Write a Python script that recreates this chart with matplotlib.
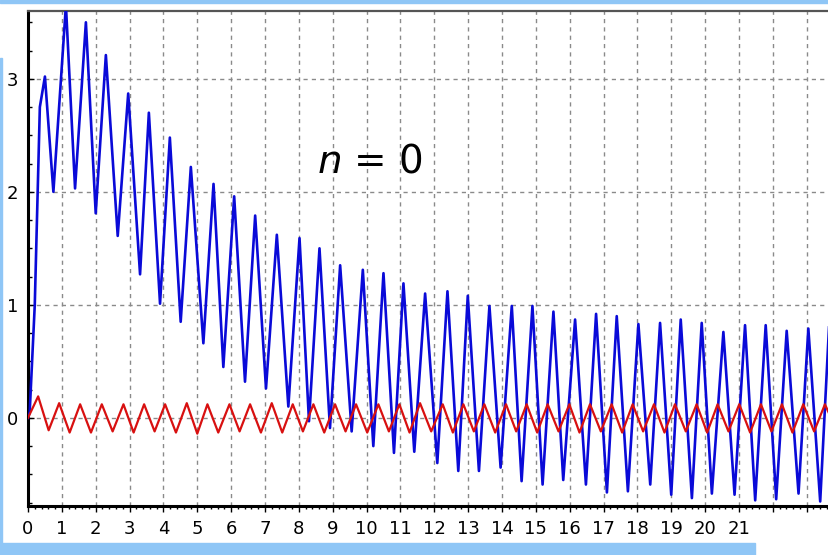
import matplotlib.pyplot as plt
import numpy as np
from matplotlib.patches import Rectangle
from matplotlib.ticker import MultipleLocator

# blue trace: turning points (x, y)
blue_x = [0.00, 0.05, 0.20, 0.35, 0.50, 0.75, 1.12, 1.39, 1.71, 2.00,
          2.30, 2.65, 2.96, 3.31, 3.57, 3.90, 4.19, 4.51, 4.81, 5.18,
          5.48, 5.77, 6.09, 6.41, 6.71, 7.03, 7.35, 7.69, 8.02, 8.30,
          8.61, 8.92, 9.22, 9.56, 9.89, 10.20, 10.50, 10.81, 11.09, 11.41,
          11.73, 12.09, 12.39, 12.71, 12.99, 13.32, 13.63, 13.96, 14.29, 14.58,
          14.90, 15.20, 15.52, 15.81, 16.16, 16.48, 16.78, 17.10, 17.39, 17.72,
          18.03, 18.38, 18.67, 19.00, 19.28, 19.61, 19.90, 20.20, 20.54, 20.87,
          21.18, 21.48, 21.79, 22.10, 22.41, 22.76, 23.05, 23.40, 23.66]
blue_y = [0.00, 0.05, 1.00, 2.75, 3.02, 2.00, 3.65, 2.03, 3.50, 1.81,
          3.21, 1.61, 2.87, 1.27, 2.70, 1.01, 2.48, 0.85, 2.22, 0.66,
          2.07, 0.45, 1.96, 0.32, 1.79, 0.26, 1.62, 0.10, 1.59, -0.03,
          1.50, -0.09, 1.35, -0.12, 1.31, -0.25, 1.28, -0.31, 1.19, -0.30,
          1.10, -0.40, 1.12, -0.47, 1.08, -0.47, 0.99, -0.44, 0.99, -0.56,
          0.99, -0.59, 0.94, -0.55, 0.87, -0.59, 0.92, -0.66, 0.90, -0.65,
          0.83, -0.59, 0.84, -0.68, 0.87, -0.71, 0.84, -0.67, 0.76, -0.68,
          0.82, -0.73, 0.82, -0.72, 0.77, -0.67, 0.79, -0.74, 0.80]

# red trace: peaks and troughs
red_peak_x = [0.30, 0.92, 1.54, 2.18, 2.82, 3.43, 4.05, 4.69, 5.30, 5.95,
              6.56, 7.20, 7.82, 8.43, 9.07, 9.69, 10.35, 10.97, 11.58, 12.25,
              12.86, 13.48, 14.12, 14.73, 15.35, 15.99, 16.60, 17.24, 17.86, 18.49,
              19.11, 19.75, 20.37, 21.01, 21.65, 22.27, 22.90, 23.54]
red_peak_y = [0.19, 0.13, 0.12, 0.12, 0.12, 0.12, 0.12, 0.13, 0.12, 0.12,
              0.12, 0.13, 0.12, 0.12, 0.12, 0.12, 0.12, 0.12, 0.13, 0.12,
              0.12, 0.12, 0.12, 0.12, 0.12, 0.12, 0.12, 0.12, 0.12, 0.12,
              0.12, 0.12, 0.12, 0.12, 0.12, 0.12, 0.12, 0.12]
red_trough_x = [0.61, 1.23, 1.86, 2.50, 3.12, 3.74, 4.37, 5.00, 5.62, 6.25,
                6.88, 7.51, 8.12, 8.75, 9.38, 10.02, 10.66, 11.27, 11.91, 12.55,
                13.17, 13.80, 14.42, 15.04, 15.67, 16.29, 16.92, 17.55, 18.17, 18.80,
                19.43, 20.06, 20.69, 21.33, 21.96, 22.58, 23.22]
red_trough_y = [-0.11, -0.13, -0.13, -0.12, -0.13, -0.12, -0.13, -0.14, -0.13, -0.12,
                -0.13, -0.13, -0.12, -0.13, -0.12, -0.13, -0.12, -0.13, -0.12, -0.13,
                -0.12, -0.13, -0.12, -0.13, -0.12, -0.13, -0.12, -0.13, -0.12, -0.13,
                -0.12, -0.13, -0.12, -0.13, -0.12, -0.13, -0.12]
red_start = (0.0, 0.0)
red_end = (23.66, 0.04)

x_ticks = list(range(24))
x_tick_labels = [str(i) for i in range(22)] + ['', '']
y_ticks = [0, 1, 2, 3]
y_tick_labels = ['0', '1', '2', '3']


def main():
    plt.rcParams['font.family'] = 'DejaVu Sans'
    plt.rcParams['mathtext.fontset'] = 'dejavusans'

    fig = plt.figure(figsize=(8.29, 5.55), dpi=100)
    ax = fig.add_axes([28 / 829, 49 / 555, 1 - 28 / 829, 495 / 555])

    # interleave red peaks and troughs
    rx = [red_start[0]]
    ry = [red_start[1]]
    for i in range(len(red_peak_x)):
        rx.append(red_peak_x[i])
        ry.append(red_peak_y[i])
        if i < len(red_trough_x):
            rx.append(red_trough_x[i])
            ry.append(red_trough_y[i])
    rx.append(red_end[0])
    ry.append(red_end[1])

    ax.plot(blue_x, blue_y, color='#0a0ad8', linewidth=1.9, zorder=3)
    ax.plot(rx, ry, color='#d81010', linewidth=1.6, zorder=4)

    ax.set_xlim(0, 23.66)
    ax.set_ylim(-0.78, 3.60)

    ax.set_xticks(x_ticks)
    ax.set_xticklabels(x_tick_labels, fontsize=13)
    ax.set_yticks(y_ticks)
    ax.set_yticklabels(y_tick_labels, fontsize=13)
    ax.xaxis.set_minor_locator(MultipleLocator(0.2))
    ax.yaxis.set_minor_locator(MultipleLocator(0.25))
    ax.tick_params(axis='x', which='major', direction='out', length=4, width=1, pad=6)
    ax.tick_params(axis='x', which='minor', direction='out', length=2, width=1)
    ax.tick_params(axis='y', which='major', direction='in', length=4, width=1, pad=7)
    ax.tick_params(axis='y', which='minor', direction='in', length=3, width=1)

    ax.grid(True, which='major', linestyle=(0, (3, 3)), color='#8a8a8a', linewidth=1.0, zorder=1)
    ax.set_axisbelow(True)

    for s in ['left', 'bottom']:
        ax.spines[s].set_color('black')
        ax.spines[s].set_linewidth(2.2)
    ax.spines['top'].set_color('#555555')
    ax.spines['top'].set_linewidth(1.6)
    ax.spines['right'].set_visible(False)

    ax.text(10.1, 2.27, r'$n$ = 0', fontsize=28, ha='center', va='center', zorder=5)

    # light blue frame strips of the slide
    strip = '#8fc6f6'
    fig.patches.append(Rectangle((0, 1 - 3 / 555), 1, 3 / 555, transform=fig.transFigure,
                                 color=strip, zorder=0))
    fig.patches.append(Rectangle((0, 0), 2 / 829, (555 - 58) / 555, transform=fig.transFigure,
                                 color=strip, zorder=0))
    fig.patches.append(Rectangle((0, 0), 755 / 829, 12 / 555, transform=fig.transFigure,
                                 color=strip, zorder=0))

    fig.savefig('out.png', dpi=100)


if __name__ == "__main__":
    main()
